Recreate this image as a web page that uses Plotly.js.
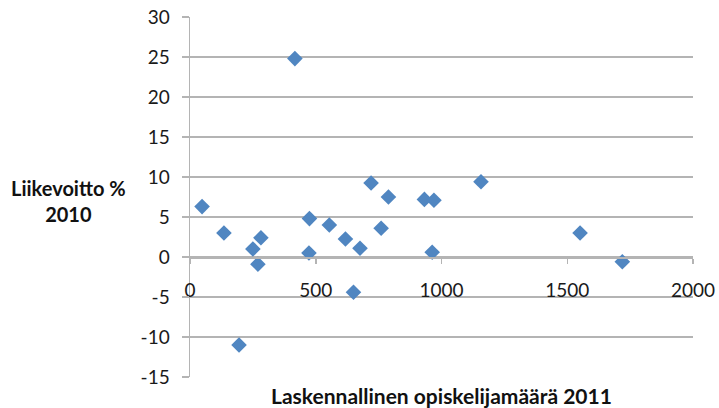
<!DOCTYPE html>
<html>
<head>
<meta charset="utf-8">
<script src="https://cdn.plot.ly/plotly-3.0.1.min.js"></script>
<style>html,body{margin:0;padding:0;background:#fff}#chart{width:719px;height:408px}</style>
</head>
<body>
<div id="chart"></div>
<script>
const opiskelijamaara = [48, 135, 195, 250, 270, 282, 417, 475, 473, 554, 618, 650, 676, 720, 760, 789, 932, 970, 963, 1157, 1551, 1719];
const liikevoitto = [6.3, 3.0, -11.0, 1.0, -0.9, 2.4, 24.8, 4.8, 0.5, 4.0, 2.25, -4.4, 1.1, 9.25, 3.6, 7.5, 7.2, 7.1, 0.6, 9.4, 3.0, -0.6];
const xTicks = [0, 500, 1000, 1500, 2000];
const yTicks = [-15, -10, -5, 0, 5, 10, 15, 20, 25, 30];
const xTitle = 'Laskennallinen opiskelijamäärä 2011';
const yTitle = 'Liikevoitto %<br>2010';

const fontFam = 'Lato, "Open Sans", sans-serif';
const grid = '#b4b4b4';

Plotly.newPlot('chart', [{
  type: 'scatter',
  mode: 'markers',
  x: opiskelijamaara,
  y: liikevoitto,
  marker: {symbol: 'diamond', size: 12, color: '#5086C1', line: {width: 0}},
  cliponaxis: false,
  hoverinfo: 'x+y'
}], {
  width: 719, height: 408,
  margin: {l: 190, r: 26, t: 17, b: 31},
  paper_bgcolor: '#fff', plot_bgcolor: '#fff',
  showlegend: false,
  font: {family: fontFam, size: 19, color: '#1a1a1a'},
  xaxis: {
    range: [0, 2000], tickvals: xTicks, ticktext: xTicks.map(String),
    showgrid: false, zeroline: false,
    showline: true, linecolor: grid, linewidth: 1.5,
    ticks: 'outside', ticklen: 5, tickcolor: grid, tickwidth: 1.5,
    anchor: 'free', position: 1/3,
    ticklabelstandoff: 11,
    tickfont: {family: fontFam, size: 19, color: '#1a1a1a'}
  },
  yaxis: {
    range: [-15, 30], tickvals: yTicks, ticktext: yTicks.map(String),
    showgrid: true, gridcolor: grid, gridwidth: 1.5,
    zeroline: false,
    showline: true, linecolor: grid, linewidth: 1.5,
    ticks: 'outside', ticklen: 7, tickcolor: grid, tickwidth: 1.5,
    ticklabelstandoff: 8,
    tickfont: {family: fontFam, size: 19, color: '#1a1a1a'}
  },
  annotations: [
    {text: '<b>' + xTitle + '</b>', xref: 'paper', yref: 'paper', x: 0.5, y: 0, yshift: -18,
     xanchor: 'center', yanchor: 'middle', showarrow: false,
     font: {family: fontFam, size: 21, color: '#111'}},
    {text: '<b>' + yTitle + '</b>', xref: 'paper', yref: 'paper', x: -0.241, y: 0.49,
     xanchor: 'center', yanchor: 'middle', align: 'center', showarrow: false,
     font: {family: fontFam, size: 20, color: '#111'}}
  ]
}, {displayModeBar: false, staticPlot: true});
</script>
</body>
</html>
